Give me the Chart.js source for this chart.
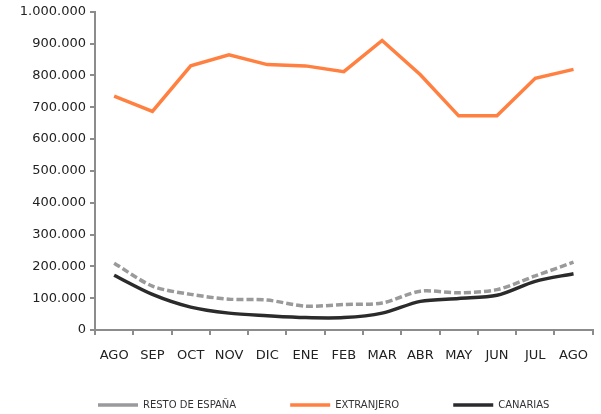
<!DOCTYPE html>
<html><head><meta charset="utf-8">
<script src="https://cdn.jsdelivr.net/npm/chart.js@4"></script>
<style>html,body{margin:0;padding:0;background:#fff}#wrap{width:601px;height:414px}</style>
</head><body><div id="wrap"><canvas id="c"></canvas></div>
<script>
const categories = ['AGO','SEP','OCT','NOV','DIC','ENE','FEB','MAR','ABR','MAY','JUN','JUL','AGO'];
const restoEspana = [210000,138000,112000,97000,94000,75000,80000,85000,122000,117000,127000,170000,213000];
const extranjero = [735000,687000,830000,865000,834000,830000,812000,910000,802000,673000,673000,791000,819000];
const canarias = [172000,112000,72000,53000,45000,39000,39000,53000,90000,99000,109000,153000,177000];
const seriesNames = ['RESTO DE ESPAÑA','EXTRANJERO','CANARIAS'];
const yMin = 0, yMax = 1000000, yStep = 100000;

function fmt(v){ return String(Math.round(v)).replace(/\B(?=(\d{3})+(?!\d))/g,'.'); }

const LEGEND_PAD = 54;
const LEGEND_X = 98;
const legendPatch = {
  id: 'legendPatch',
  afterInit(chart){
    const lg = chart.legend;
    if (!lg || lg._patched) return;
    lg._patched = true;
    const of = lg.fit.bind(lg);
    lg.fit = function(){ const mw = this.maxWidth; this.maxWidth = 2000; of(); this.maxWidth = mw; this.width = mw; this.height = 18; };
    const od = lg.draw.bind(lg);
    lg.draw = function(){
      const t = this.top, l = this.left, r = this.right;
      this.top = t - LEGEND_PAD + 4; this.left = LEGEND_X - LEGEND_PAD; this.right = 2000;
      od();
      this.top = t; this.left = l; this.right = r;
    };
  }
};

const FONT = '"DejaVu Sans", Verdana, sans-serif';
new Chart(document.getElementById('c'), {
  type: 'line',
  data: {
    labels: categories,
    datasets: [
      {label: seriesNames[0], data: restoEspana, borderColor:'#9a9a9a', backgroundColor:'#9a9a9a', borderWidth:3.5, borderDash:[7,3], tension:0.3, pointRadius:0, pointStyle:'line'},
      {label: seriesNames[1], data: extranjero, borderColor:'#ff8040', backgroundColor:'#ff8040', borderWidth:3.5, tension:0, pointRadius:0, pointStyle:'line'},
      {label: seriesNames[2], data: canarias, borderColor:'#2b2b2b', backgroundColor:'#2b2b2b', borderWidth:3.5, tension:0.3, pointRadius:0, pointStyle:'line'}
    ]
  },
  plugins: [legendPatch],
  options: {
    responsive: true, maintainAspectRatio: false, animation: false,
    layout: {padding: {left: 4, right: -2, top: 11, bottom: 0}},
    plugins: {
      tooltip: {enabled:false},
      legend: {
        position: 'bottom', align: 'start',
        labels: {usePointStyle:true, pointStyleWidth:40, boxWidth:40, boxHeight:8, padding:LEGEND_PAD, color:'#333', font:{family:FONT, size:10}}
      }
    },
    scales: {
      x: {
        offset: true,
        grid: {offset:true, drawOnChartArea:false, drawTicks:true, tickLength:5, color:'#8c8c8c', lineWidth:2},
        border: {color:'#8c8c8c', width:2},
        ticks: {color:'#222', font:{family:FONT, size:13}, padding:13, maxRotation:0, autoSkip:false},
        afterFit(s){ s.height = 66; }
      },
      y: {
        min: yMin, max: yMax,
        grid: {drawOnChartArea:false, drawTicks:true, tickLength:5, color:'#8c8c8c', lineWidth:2},
        border: {color:'#8c8c8c', width:2},
        ticks: {stepSize: yStep, color:'#222', font:{family:FONT, size:13}, padding:4, callback: v => fmt(v)},
        afterFit(s){ s.width = 91; }
      }
    }
  }
});
</script></body></html>
